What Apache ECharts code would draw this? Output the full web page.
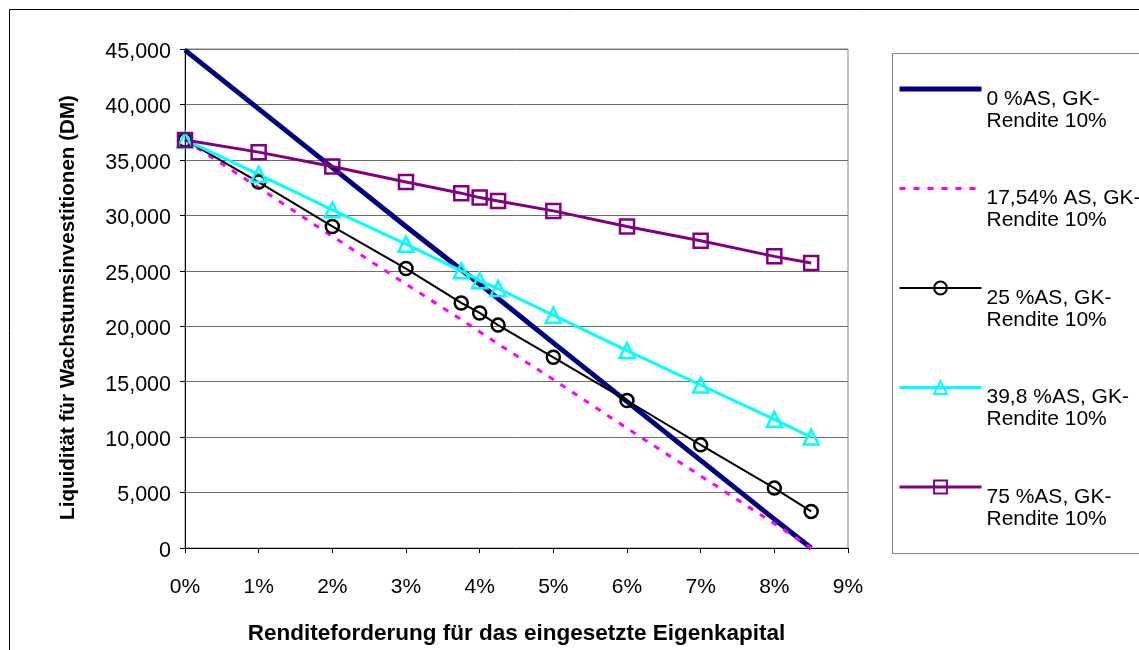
<!DOCTYPE html>
<html>
<head>
<meta charset="utf-8">
<script src="https://cdn.jsdelivr.net/npm/echarts@6/dist/echarts.min.js"></script>
<style>
  html, body { margin: 0; padding: 0; background: #fff; }
  #chart { width: 1139px; height: 650px; }
</style>
</head>
<body>
<div id="chart"></div>
<script>
// Required return on equity (%) — x positions shared by all series
const rendite = [0, 1, 2, 3, 3.75, 4, 4.25, 5, 6, 7, 8, 8.5];

// Liquidity available for growth investments (DM)
const as0    = [44900, 39600, 34300, 29000, 25100, 23800, 22500, 18500, 13200, 7900, 2600, 0];
const as1754 = [36800, 32500, 28100, 23800, 20600, 19500, 18400, 15200, 10800, 6500, 2200, 0];
const as25   = [36800, 33000, 29000, 25200, 22100, 21200, 20100, 17200, 13300, 9300, 5400, 3300];
const as398  = [36800, 33700, 30500, 27400, 25000, 24100, 23400, 21000, 17800, 14700, 11600, 10000];
const as75   = [36800, 35700, 34400, 33000, 32000, 31600, 31300, 30400, 29000, 27700, 26300, 25700];

const seriesNames = [
  '0 %AS, GK-\nRendite 10%',
  '17,54% AS, GK-\nRendite 10%',
  '25 %AS, GK-\nRendite 10%',
  '39,8 %AS, GK-\nRendite 10%',
  '75 %AS, GK-\nRendite 10%'
];

const xAxisName = 'Renditeforderung für das eingesetzte Eigenkapital';
const yAxisName = 'Liquidität für Wachstumsinvestitionen (DM)';

const FONT = '"Liberation Sans", Arial, sans-serif';
const pairs = ys => rendite.map((x, i) => [x, ys[i]]);

const chart = echarts.init(document.getElementById('chart'), null, { renderer: 'canvas' });

chart.setOption({
  backgroundColor: '#ffffff',
  animation: false,
  textStyle: { fontFamily: FONT, color: '#000' },
  graphic: [
    {
      type: 'rect', silent: true, z: -10,
      shape: { x: 9.5, y: 9.5, width: 1200, height: 700 },
      style: { fill: 'none', stroke: '#000', lineWidth: 1 }
    },
    {
      type: 'rect', silent: true, z: -10,
      shape: { x: 892.5, y: 53.5, width: 300, height: 500 },
      style: { fill: 'none', stroke: '#808080', lineWidth: 1 }
    }
  ],
  grid: {
    left: 185, top: 49, right: 291, bottom: 100,
    show: true, borderColor: '#808080', borderWidth: 1, backgroundColor: 'transparent'
  },
  legend: {
    orient: 'vertical',
    left: 897, top: 46, padding: 0,
    itemWidth: 82, itemHeight: 16, itemGap: 13.5,
    selectedMode: false,
    // blank first row pushes the two-line label below the key line
    formatter: name => '{gap| }\n' + name,
    textStyle: {
      fontFamily: FONT, fontSize: 21, color: '#000', lineHeight: 22,
      rich: { gap: { height: 42, lineHeight: 42, fontSize: 2 } }
    },
    data: [
      { name: seriesNames[0], lineStyle: { width: 5 }, itemStyle: { opacity: 0 } },
      { name: seriesNames[1], lineStyle: { width: 3 }, itemStyle: { opacity: 0 } },
      { name: seriesNames[2], lineStyle: { width: 2 } },
      { name: seriesNames[3], lineStyle: { width: 3 } },
      { name: seriesNames[4], lineStyle: { width: 3 } }
    ]
  },
  xAxis: {
    type: 'value', min: 0, max: 9, interval: 1,
    name: xAxisName, nameLocation: 'middle', nameGap: 74,
    nameTextStyle: { fontFamily: FONT, fontSize: 22.5, fontWeight: 'bold', color: '#000' },
    axisLine: { show: true, onZero: false, lineStyle: { color: '#000', width: 1 } },
    axisTick: { show: true, inside: false, length: 5, lineStyle: { color: '#000' } },
    axisLabel: { fontFamily: FONT, fontSize: 21, color: '#000', margin: 29, formatter: '{value}%' },
    splitLine: { show: false }
  },
  yAxis: {
    type: 'value', min: 0, max: 45000, interval: 5000,
    name: yAxisName, nameLocation: 'middle', nameGap: 106, nameRotate: 90,
    nameTextStyle: {
      fontFamily: FONT, fontSize: 20.6, fontWeight: 'bold', color: '#000',
      padding: [0, 18, 0, 0]
    },
    axisLine: { show: true, lineStyle: { color: '#000', width: 1 } },
    axisTick: { show: true, inside: false, length: 5, lineStyle: { color: '#000' } },
    axisLabel: {
      color: '#000', margin: 14,
      formatter: v => '{t|' + echarts.format.addCommas(v) + '}',
      rich: { t: { fontFamily: FONT, fontSize: 21.5, color: '#000', padding: [6, 0, 0, 0] } }
    },
    splitLine: { show: true, lineStyle: { color: '#6e6e6e', width: 1 } }
  },
  series: [
    {
      name: seriesNames[0], type: 'line', data: pairs(as0),
      symbol: 'none', color: '#000080',
      lineStyle: { color: '#000080', width: 5 }
    },
    {
      name: seriesNames[1], type: 'line', data: pairs(as1754),
      symbol: 'none', color: '#ff00ff',
      lineStyle: { color: '#ff00ff', width: 3, type: [6, 8] }
    },
    {
      name: seriesNames[2], type: 'line', data: pairs(as25),
      symbol: 'circle', symbolSize: 13, color: '#000',
      lineStyle: { color: '#000', width: 2 },
      itemStyle: { color: 'rgba(0,0,0,0)', borderColor: '#000', borderWidth: 2.5 }
    },
    {
      name: seriesNames[3], type: 'line', data: pairs(as398),
      symbol: 'triangle', symbolSize: 15, color: '#00ffff',
      lineStyle: { color: '#00ffff', width: 3 },
      itemStyle: { color: 'rgba(0,0,0,0)', borderColor: '#00ffff', borderWidth: 2.5 }
    },
    {
      name: seriesNames[4], type: 'line', data: pairs(as75),
      symbol: 'rect', symbolSize: 14, color: '#800080',
      lineStyle: { color: '#800080', width: 3 },
      itemStyle: { color: 'rgba(0,0,0,0)', borderColor: '#800080', borderWidth: 2.5 }
    }
  ]
});
</script>
</body>
</html>
